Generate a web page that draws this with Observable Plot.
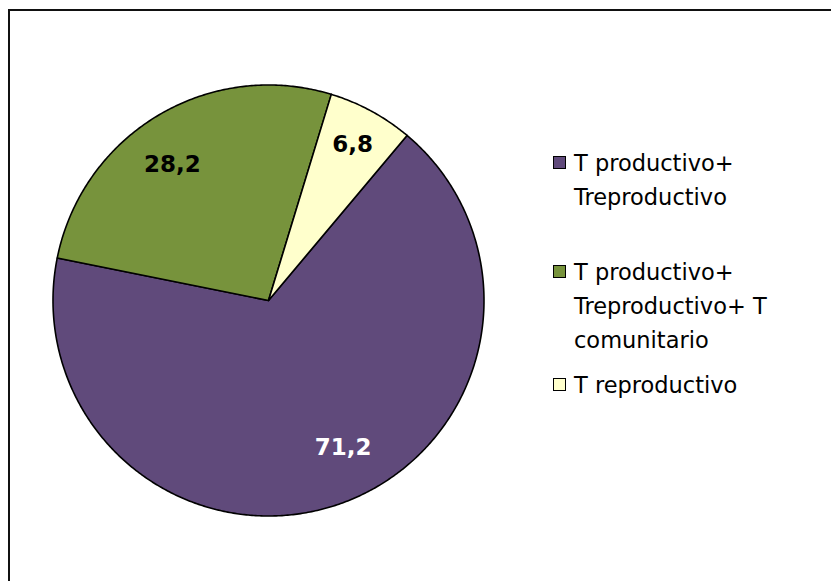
<!DOCTYPE html>
<html>
<head>
<meta charset="utf-8">
<script src="https://cdn.jsdelivr.net/npm/d3@7"></script>
<script src="https://cdn.jsdelivr.net/npm/@observablehq/plot@0.6"></script>
<style>
  html, body { margin: 0; padding: 0; background: #fff; }
  #wrap { position: relative; width: 831px; height: 581px; overflow: hidden; font-family: "DejaVu Sans", sans-serif; }
  #frame { position: absolute; left: 8px; top: 9px; width: 900px; height: 700px; border-top: 2px solid #111; border-left: 2px solid #111; box-sizing: border-box; }
  #chart { position: absolute; left: 0; top: 0; }
  .entry { position: absolute; left: 553px; font-size: 22.5px; line-height: 34px; color: #000; }
  .sw { position: absolute; left: 0; width: 11px; height: 11px; border: 1px solid #000; }
  .lbl { position: absolute; left: 21px; white-space: nowrap; }
</style>
</head>
<body>
<div id="wrap">
  <div id="frame"></div>
  <div id="chart"></div>
  <div id="legend"></div>
</div>
<script>
const categories = ["T productivo+ Treproductivo", "T productivo+ Treproductivo+ T comunitario", "T reproductivo"];
const legendLines = [["T productivo+", "Treproductivo"], ["T productivo+", "Treproductivo+ T", "comunitario"], ["T reproductivo"]];
const values = [71.2, 28.2, 6.8];
const labels = ["71,2", "28,2", "6,8"];
const colors = ["#604A7B", "#77933C", "#FFFFCC"];
const labelColors = ["#ffffff", "#000000", "#000000"];
const startAngleDeg = 40;

const total = d3.sum(values);
const toRad = Math.PI / 180;
let acc = startAngleDeg * toRad;
const slices = values.map((v, i) => {
  const a0 = acc;
  const a1 = acc + (v / total) * 2 * Math.PI;
  acc = a1;
  return { name: categories[i], value: v, a0, a1, mid: (a0 + a1) / 2, label: labels[i], color: colors[i], labelColor: labelColors[i] };
});

// polygon points of each slice (angle clockwise from top)
const pts = [];
for (const s of slices) {
  pts.push({ name: s.name, x: 0, y: 0 });
  const n = Math.max(4, Math.ceil((s.a1 - s.a0) / (0.5 * toRad)));
  for (let k = 0; k <= n; k++) {
    const a = s.a0 + (s.a1 - s.a0) * k / n;
    pts.push({ name: s.name, x: Math.sin(a), y: Math.cos(a) });
  }
  pts.push({ name: s.name, x: 0, y: 0 });
}

const labelR = 0.78;
const labelData = slices.map(s => ({ ...s, x: labelR * Math.sin(s.mid), y: labelR * Math.cos(s.mid) }));

// best-fit style nudges (pixels) for the data labels
const nudge = [[19, -11], [-10, 8], [4, -8]];

const cx = 268, cy = 300, R = 215.5;
const plot = Plot.plot({
  width: 831,
  height: 581,
  margin: 0,
  x: { domain: [-1, 1], range: [cx - R, cx + R], axis: null },
  y: { domain: [-1, 1], range: [cy + R, cy - R], axis: null },
  color: { domain: categories, range: colors },
  style: { background: "transparent", overflow: "visible" },
  marks: [
    Plot.line(pts, { x: "x", y: "y", z: "name", fill: "name", stroke: "#000", strokeWidth: 1.6, strokeLinejoin: "round", curve: "linear" }),
    ...labelData.map((d, i) =>
      Plot.text([d], { x: "x", y: "y", text: "label", fill: "labelColor", dx: nudge[i][0], dy: nudge[i][1], fontSize: 23, fontWeight: "bold", fontFamily: "DejaVu Sans", textAnchor: "middle", lineAnchor: "middle" })
    )
  ]
});
document.getElementById("chart").appendChild(plot);

// legend
const tops = [146, 255, 368];
const legend = document.getElementById("legend");
categories.forEach((c, i) => {
  const e = document.createElement("div");
  e.className = "entry";
  e.style.top = tops[i] + "px";
  const sw = document.createElement("div");
  sw.className = "sw";
  sw.style.background = colors[i];
  sw.style.top = "10px";
  e.appendChild(sw);
  legendLines[i].forEach((line, j) => {
    const t = document.createElement("div");
    t.className = "lbl";
    t.style.top = (j * 34) + "px";
    t.textContent = line;
    e.appendChild(t);
  });
  legend.appendChild(e);
});
</script>
</body>
</html>
